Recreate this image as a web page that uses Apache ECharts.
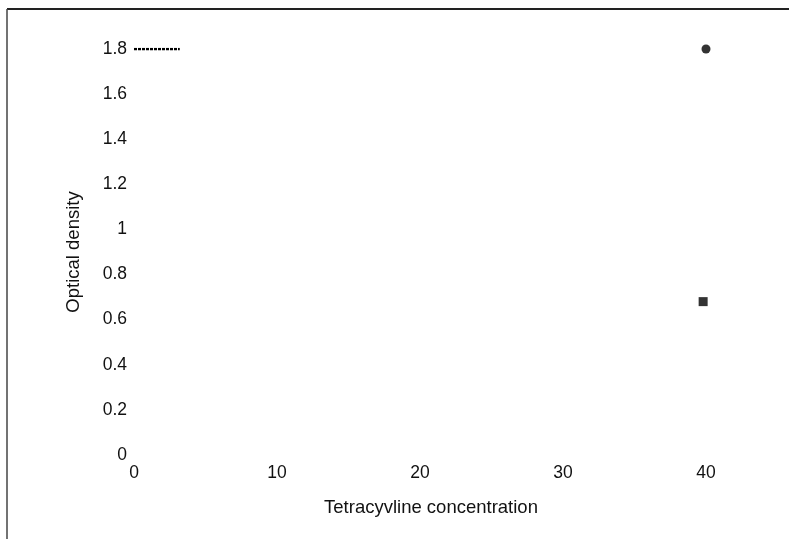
<!DOCTYPE html>
<html>
<head>
<meta charset="utf-8">
<script src="https://cdn.jsdelivr.net/npm/echarts@6/dist/echarts.min.js"></script>
<style>
  html, body { margin: 0; padding: 0; background: #fff; }
  #chart { width: 789px; height: 539px; }
</style>
</head>
<body>
<div id="chart"></div>
<script>
// values
const xTicks = [0, 10, 20, 30, 40];
const yTicks = [0, 0.2, 0.4, 0.6, 0.8, 1, 1.2, 1.4, 1.6, 1.8];
const refLine = [[0, 1.8], [3.2, 1.8]];
const circlePoints = [[40, 1.8]];
const squarePoints = [[39.8, 0.68]];

const font = '"Liberation Sans", Arial, sans-serif';

const option = {
  backgroundColor: '#fff',
  animation: false,
  grid: { left: 134, right: 83, top: 49, bottom: 84 },
  xAxis: {
    type: 'value',
    min: xTicks[0],
    max: xTicks[xTicks.length - 1],
    interval: 10,
    name: 'Tetracyvline concentration',
    nameLocation: 'middle',
    nameGap: 43,
    nameTextStyle: { color: '#111', fontSize: 18.5, fontFamily: font, padding: [0, 0, 0, 22] },
    axisLine: { show: false },
    axisTick: { show: false },
    splitLine: { show: false },
    axisLabel: { color: '#111', fontSize: 17.5, fontFamily: font, margin: 9 }
  },
  yAxis: {
    type: 'value',
    min: yTicks[0],
    max: yTicks[yTicks.length - 1],
    interval: 0.2,
    name: 'Optical density',
    nameLocation: 'middle',
    nameGap: 51,
    nameTextStyle: { color: '#111', fontSize: 18.5, fontFamily: font },
    axisLine: { show: false },
    axisTick: { show: false },
    splitLine: { show: false },
    axisLabel: {
      color: '#111', fontSize: 17.5, fontFamily: font, margin: 7,
      formatter: v => String(Math.round(v * 10) / 10)
    }
  },
  graphic: [
    { type: 'line', shape: { x1: 7, y1: 9, x2: 789, y2: 9 }, style: { stroke: '#222', lineWidth: 2 } },
    { type: 'line', shape: { x1: 7, y1: 9, x2: 7, y2: 539 }, style: { stroke: '#444', lineWidth: 1.5 } }
  ],
  series: [
    {
      type: 'line',
      data: refLine,
      symbol: 'none',
      lineStyle: { color: '#000', width: 2.5, type: [3, 1] }
    },
    {
      type: 'scatter',
      data: circlePoints,
      symbol: 'circle',
      symbolSize: 9,
      itemStyle: { color: '#000' }
    },
    {
      type: 'scatter',
      data: squarePoints,
      symbol: 'rect',
      symbolSize: 9,
      itemStyle: { color: '#000' }
    }
  ]
};

const chart = echarts.init(document.getElementById('chart'));
chart.setOption(option);
</script>
</body>
</html>
